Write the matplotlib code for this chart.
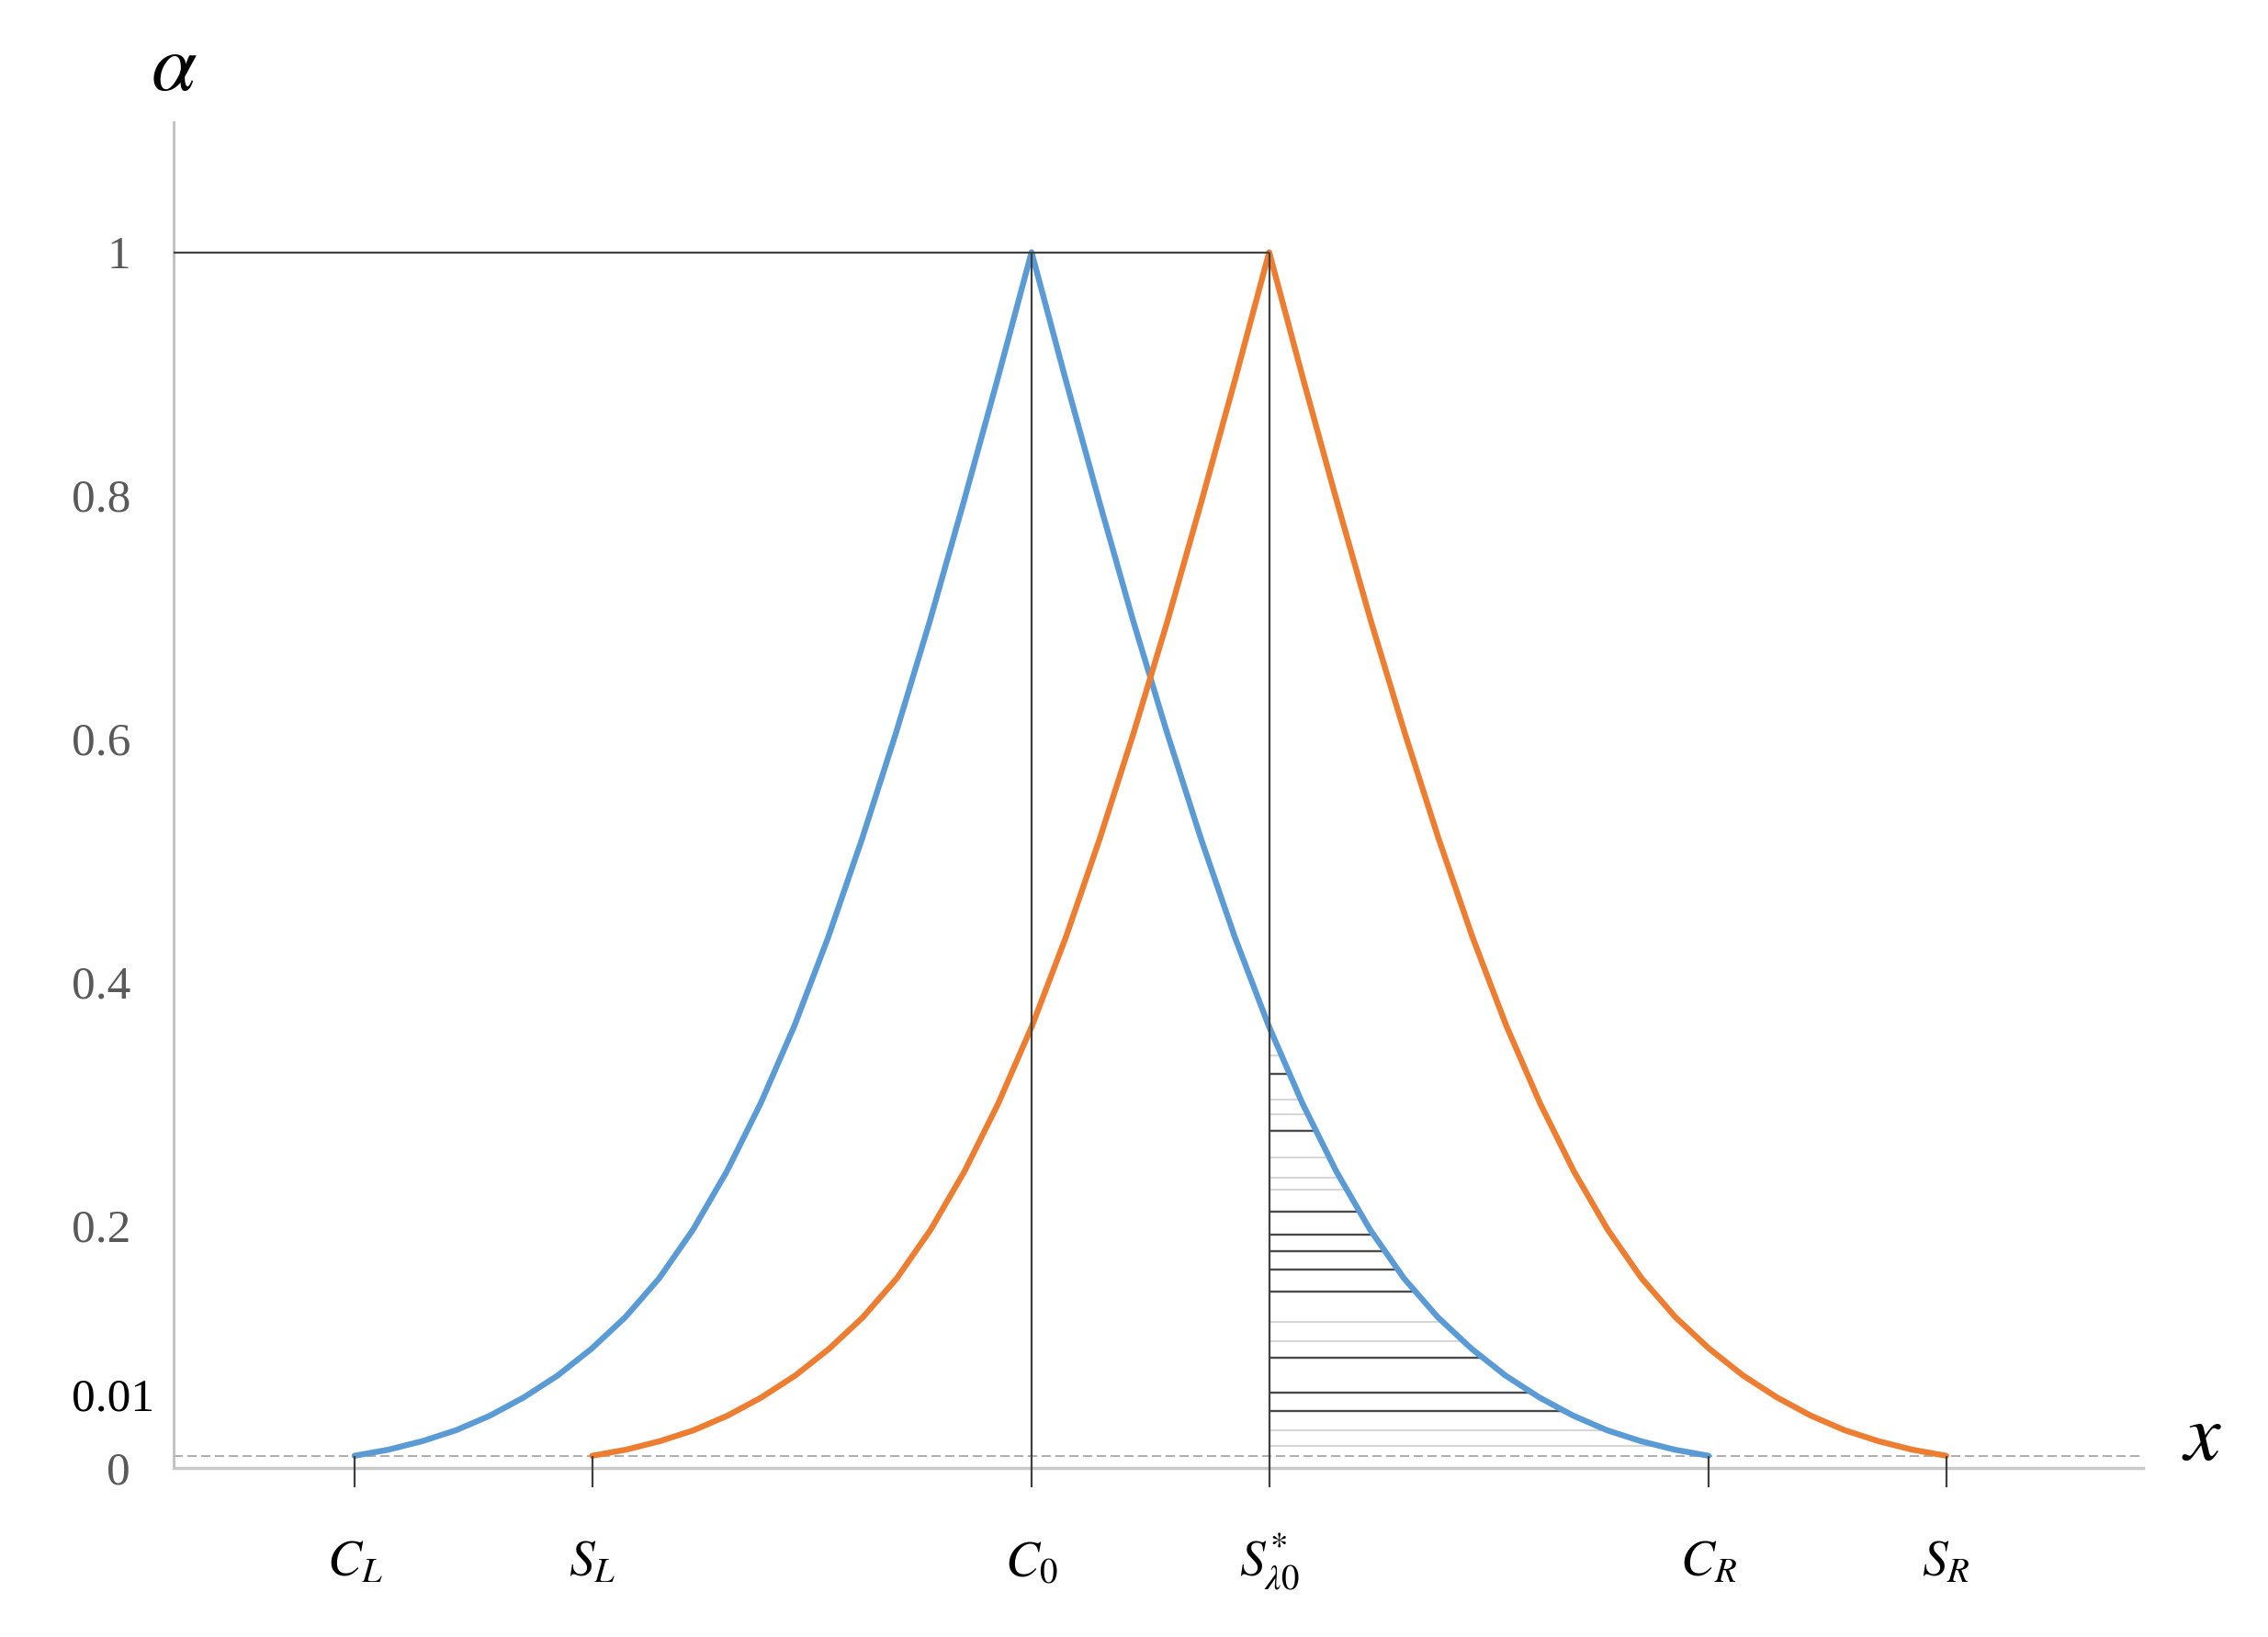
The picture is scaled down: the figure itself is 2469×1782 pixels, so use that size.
import matplotlib
matplotlib.use('Agg')
import matplotlib.pyplot as plt
import numpy as np

plt.rcParams['mathtext.fontset'] = 'stix'
plt.rcParams['font.family'] = ['Liberation Serif', 'DejaVu Serif']

# half profile of the membership curve:
# distance from the peak (share of the spread) and the alpha level
spread = np.array([0.0, 0.05, 0.10, 0.15, 0.20, 0.25, 0.30, 0.35, 0.40, 0.45, 0.50,
                   0.55, 0.60, 0.65, 0.70, 0.75, 0.80, 0.85, 0.90, 0.95, 1.0])
level = np.array([1.0, 0.896, 0.795, 0.697, 0.605, 0.518, 0.437, 0.364, 0.300, 0.244, 0.196,
                  0.156, 0.124, 0.098, 0.076, 0.058, 0.043, 0.031, 0.022, 0.015, 0.010])
centers = [0.0, 0.351]          # C0 and S*_lambda0
colors = ['#5b9bd5', '#ed7d31']

tick_pos = [-1.0, -0.649, 0.0, 0.351, 1.0, 1.351]
tick_lab = [r'$C_L$', r'$S_L$', r'$C_0$', r'$S^{*}_{\lambda 0}$', r'$C_R$', r'$S_R$']
y_ticks = [0, 0.2, 0.4, 0.6, 0.8, 1]
y_lab = ['0', '0.2', '0.4', '0.6', '0.8', '1']
alpha_min = 0.01

# horizontal lines in the area between S* and the blue curve
hatch_dark = [0.324, 0.277, 0.211, 0.192, 0.178, 0.163, 0.145, 0.091, 0.062, 0.047]
hatch_light = [0.339, 0.303, 0.291, 0.255, 0.239, 0.229, 0.120, 0.104, 0.031, 0.018]

fig = plt.figure(figsize=(24.69, 17.82), dpi=100)
ax = fig.add_axes([0.0766, 0.081, 0.8684, 0.8444])
xmin, xmax = -1.267, 1.642
ymin, ymax = -0.03, 1.107
ax.set_xlim(xmin, xmax)
ax.set_ylim(ymin, ymax)

for s in ['top', 'right']:
    ax.spines[s].set_visible(False)
ax.spines['left'].set_color('#bfbfbf')
ax.spines['left'].set_linewidth(2)
ax.spines['left'].set_bounds(0, ymax)
ax.spines['bottom'].set_position(('data', 0))
ax.spines['bottom'].set_color('#c8c8c8')
ax.spines['bottom'].set_linewidth(2.5)

ax.set_xticks([])
ax.set_yticks(y_ticks, y_lab)
ax.tick_params(axis='y', length=0, pad=34, labelsize=37, labelcolor='#595959')

# membership curves
for c, col in zip(centers, colors):
    xs = np.concatenate([c - spread[::-1], c + spread[1:]])
    ys = np.concatenate([level[::-1], level[1:]])
    ax.plot(xs, ys, color=col, lw=4.6, solid_joinstyle='round', solid_capstyle='round', zorder=3)

# hatch between S* and right branch of blue curve
for levels, col, lw in [(hatch_light, '#d6d6d6', 1.5), (hatch_dark, '#4a4a4a', 1.7)]:
    ends = centers[0] + np.interp(levels, level[::-1], spread[::-1])
    ax.hlines(levels, centers[1], ends, color=col, lw=lw, zorder=2)

# helper lines
ax.hlines(alpha_min, xmin, xmax, color='#a0a0a0', lw=1.2, linestyles=(0, (6, 3)), zorder=1)
ax.hlines(1, xmin, centers[1], color='#404040', lw=1.6, zorder=4)
for p in tick_pos:
    top = 1 if p in centers else alpha_min
    ax.vlines(p, -0.016, top, color='#404040', lw=1.6, zorder=4)

for p, lab in zip(tick_pos, tick_lab):
    ax.text(p, -0.089, lab, fontsize=40, ha='center', va='baseline', clip_on=False)

ax.annotate('0.01', xy=(xmin, alpha_min), xytext=(-15, 44), textcoords='offset points',
            ha='right', va='center', fontsize=37, color='black', annotation_clip=False)

ax.text(xmin, 1.15, r'$\alpha$', fontsize=64, ha='center', va='center', clip_on=False)
ax.text(1.729, 0.023, r'$x$', fontsize=64, ha='center', va='center', clip_on=False)

fig.savefig('out.png', dpi=100)
